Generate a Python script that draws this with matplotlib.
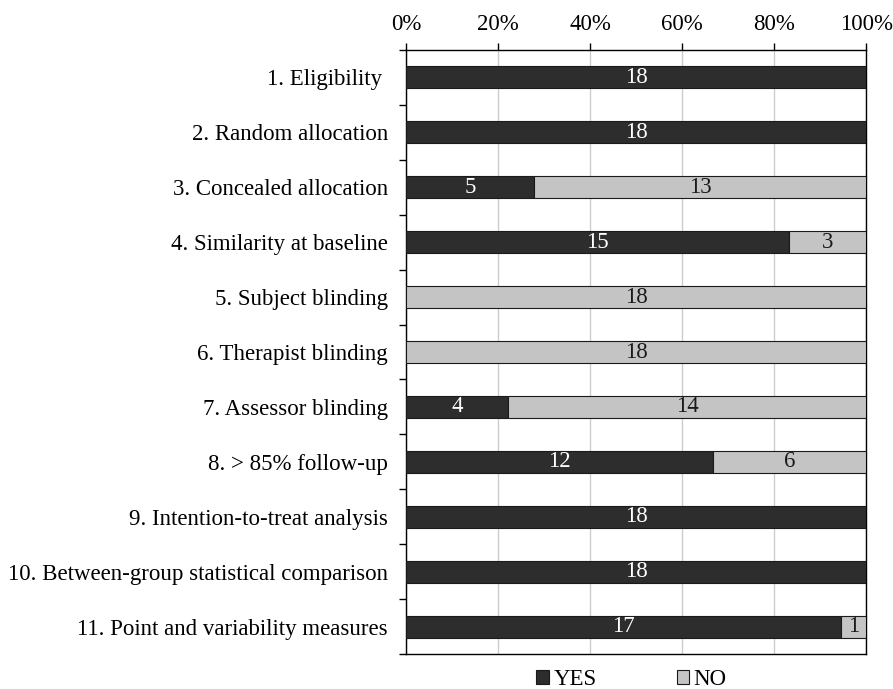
import matplotlib.pyplot as plt
import numpy as np

plt.rcParams['font.family'] = ['Liberation Serif', 'DejaVu Serif']

# PEDro criteria, number of studies scoring YES / NO
criteria = ['1. Eligibility ', '2. Random allocation', '3. Concealed allocation',
            '4. Similarity at baseline', '5. Subject blinding', '6. Therapist blinding',
            '7. Assessor blinding', '8. > 85% follow-up', '9. Intention-to-treat analysis',
            '10. Between-group statistical comparison', '11. Point and variability measures']
yes = [18, 18, 5, 15, 0, 0, 4, 12, 18, 18, 17]
no = [0, 0, 13, 3, 18, 18, 14, 6, 0, 0, 1]
ticks = [0, 20, 40, 60, 80, 100]
tick_labels = ['0%', '20%', '40%', '60%', '80%', '100%']

yes = np.array(yes)
no = np.array(no)
total = yes + no
yes_pct = yes / total * 100
no_pct = no / total * 100
y = np.arange(len(criteria))

fs = 16.5

fig = plt.figure(figsize=(8.93, 6.89), dpi=100)
ax = fig.add_axes([0.4545, 0.0508, 0.5155, 0.8766])

c_yes = '#2d2d2d'
c_no = '#c4c4c4'
h = 0.4
b1 = ax.barh(y, yes_pct, height=h, color=c_yes, edgecolor='#1a1a1a', linewidth=0.8, label='YES', zorder=3)
b2 = ax.barh(y, no_pct, left=yes_pct, height=h, color=c_no, edgecolor='#1a1a1a', linewidth=0.8, label='NO', zorder=3)

for i in range(len(criteria)):
    if yes[i] > 0:
        ax.text(yes_pct[i] / 2, y[i], str(yes[i]), ha='center', va='center',
                color='white', fontsize=fs, zorder=4)
    if no[i] > 0:
        ax.text(yes_pct[i] + no_pct[i] / 2, y[i], str(no[i]), ha='center', va='center',
                color='#1a1a1a', fontsize=fs, zorder=4)

ax.set_xlim(0, 100)
ax.set_ylim(len(criteria) - 0.5, -0.5)
ax.xaxis.tick_top()
ax.set_xticks(ticks)
ax.set_xticklabels(tick_labels, fontsize=fs)
ax.tick_params(axis='x', length=5, width=1, pad=6)
ax.grid(axis='x', color='#cccccc', linewidth=1, zorder=0)

ax.set_yticks(y)
ax.set_yticklabels(criteria, fontsize=fs)
ax.tick_params(axis='y', which='major', length=0, pad=13)
ax.set_yticks(np.arange(len(criteria) + 1) - 0.5, minor=True)
ax.tick_params(axis='y', which='minor', length=5, width=1)

for s in ax.spines.values():
    s.set_linewidth(1)
    s.set_color('black')

ax.legend(handles=[b1, b2], loc='upper center', bbox_to_anchor=(0.49, 0.0), ncol=2,
          frameon=False, fontsize=fs, handlelength=0.55, handleheight=0.55,
          handletextpad=0.2, columnspacing=3.5, borderpad=0.15)

fig.savefig('out.png', dpi=100)
